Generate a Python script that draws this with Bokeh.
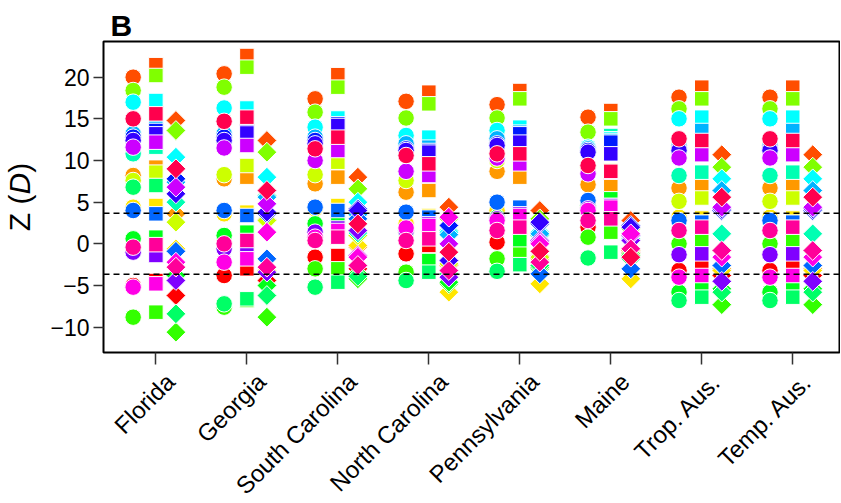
from math import pi
from bokeh.plotting import figure
from bokeh.layouts import column, row
from bokeh.models import Span, FixedTicker, ColumnDataSource, Grid
from bokeh.core.properties import value
from bokeh.embed import file_html
from bokeh.resources import INLINE

categories = ["Florida", "Georgia", "South Carolina", "North Carolina",
              "Pennsylvania", "Maine", "Trop. Aus.", "Temp. Aus."]

# rainbow(20) colours, index 0..19
palette = ["#FF0000", "#FF4D00", "#FF9900", "#FFE600", "#CCFF00", "#80FF00",
           "#33FF00", "#00FF1A", "#00FF66", "#00FFB3", "#00FFFF", "#00B3FF",
           "#0066FF", "#001AFF", "#3300FF", "#8000FF", "#CC00FF", "#FF00E6",
           "#FF0099", "#FF004D"]

# Z(D) values, one per colour index (circles / squares / diamonds)
fl_c = [-5.0, 20.0, 8.2, 4.4, 7.6, 18.4, -8.8, 0.6, 6.8, 10.8, 17.0, 13.2, 4.0, 12.8, 12.4, -1.0, 11.6, -5.2, -0.4, 15.0]
fl_s = [-4.4, 21.5, 9.2, 4.6, 8.6, 20.2, -8.2, 0.8, 7.0, 11.6, 17.2, 13.9, 3.6, 13.6, 13.2, -1.4, 12.2, -4.8, -0.1, 15.6]
fl_d = [-6.2, 14.8, 3.6, -0.6, 2.6, 13.6, -10.6, -3.8, -8.4, 5.0, 10.4, 7.4, -0.9, 7.8, 6.0, -4.4, 6.8, -2.2, -2.8, 9.0]

ga_c = [-3.8, 20.4, 7.8, 3.6, 8.3, 18.8, -7.6, 1.0, -7.2, 12.2, 16.3, 13.2, 4.0, 12.8, 12.4, -0.6, 11.5, -2.2, 0.0, 14.7]
ga_s = [-3.0, 22.6, 8.0, 3.8, 9.4, 21.2, -6.8, 1.4, -6.6, 13.0, 16.3, 15.0, 3.4, 13.5, 13.3, -0.8, 11.8, -1.8, 0.4, 15.2]
ga_d = [-4.4, 12.4, 2.9, -3.2, 2.8, 11.0, -8.8, -5.0, -6.2, 5.8, 8.0, 5.6, -1.8, 3.6, 3.8, -3.4, 4.8, 1.4, -2.8, 6.4]

sc_c = [-1.6, 17.4, 7.2, 4.2, 8.3, 15.8, -3.0, 2.4, -5.2, 12.6, 14.0, 12.8, 4.4, 12.4, 12.0, 1.4, 10.0, 0.8, 0.4, 11.4]
sc_s = [-1.4, 20.3, 8.0, 4.6, 9.8, 18.8, -3.0, 2.6, -4.6, 14.6, 15.1, 14.2, 4.0, 14.4, 14.2, 1.9, 11.2, 1.6, 0.8, 12.8]
sc_d = [-3.0, 8.0, -0.4, -0.2, 1.0, 6.6, -4.2, -3.6, -3.9, 1.3, 5.0, 3.5, 3.0, 4.2, 4.0, 1.6, -1.4, -1.6, -2.6, 2.4]

nc_c = [-1.2, 17.1, 6.2, 2.4, 7.6, 15.1, -3.4, 1.4, -4.4, 11.8, 13.0, 12.0, 3.8, 11.4, 11.2, 1.6, 8.7, 1.9, 0.4, 10.6]
nc_s = [-0.2, 18.2, 6.4, 3.4, 8.3, 16.8, -2.2, -2.0, -3.4, 12.6, 12.8, 11.6, 3.2, 11.2, 11.0, 2.4, 8.2, 2.2, 0.6, 9.6]
nc_d = [-2.5, 4.4, -2.6, -5.8, -2.4, 3.0, -4.8, -4.6, -3.6, 1.6, 1.4, 1.1, -2.0, 2.2, -2.0, -4.0, 0.0, 3.2, -3.2, -1.0]

pa_c = [0.2, 16.7, 8.7, 4.0, 10.0, 15.1, -1.8, 3.2, -3.3, 12.4, 13.6, 12.6, 5.0, 12.0, 11.8, 3.0, 10.3, 2.8, 1.6, 10.8]
pa_s = [1.2, 18.4, 8.0, 4.2, 10.0, 17.4, -0.8, 0.5, -2.5, 13.8, 14.0, 13.4, 4.4, 13.2, 12.2, 3.6, 9.6, 3.4, 2.0, 10.8]
pa_d = [-1.5, 4.0, -1.8, -4.8, -1.6, 3.0, -3.0, -2.8, -2.6, 1.0, 1.4, 1.2, -3.6, 2.4, 2.6, 0.4, 0.2, 0.0, -2.2, -0.9]

me_c = [2.0, 15.2, 7.1, 4.4, 9.2, 13.4, 0.8, 4.6, -1.7, 11.0, 11.6, 11.4, 5.2, 11.2, 11.0, 4.2, 8.4, 4.0, 2.8, 9.4]
me_s = [2.8, 16.0, 7.0, 5.0, 8.8, 15.0, 1.4, 5.4, -1.0, 13.0, 12.6, 12.4, 4.6, 12.2, 10.8, 4.6, 8.6, 4.4, 3.0, 8.7]
me_d = [-1.0, 2.8, -0.8, -4.2, -0.6, 1.8, -1.2, -1.4, -1.8, 0.6, 0.9, 1.0, -3.0, 2.2, 2.0, 0.4, 1.0, 1.2, -0.6, -1.6]

ta_c = [-3.2, 17.6, 6.7, 3.2, 5.1, 16.2, 0.0, -5.8, -6.8, 8.2, 15.0, 11.8, 2.8, 11.4, 11.2, -1.3, 10.3, -4.0, 1.6, 12.6]
ta_s = [-2.4, 18.8, 7.0, 3.1, 5.5, 17.4, 0.3, -5.0, -6.4, 8.6, 15.2, 13.6, 2.6, 12.0, 11.6, -1.2, 10.7, -3.8, 2.0, 12.4]
ta_d = [-3.8, 10.7, -3.0, -3.2, -0.8, 9.2, -7.3, -5.4, -5.8, 1.2, 7.8, 6.4, -2.6, 4.0, 4.2, -4.5, 4.4, -1.6, -0.8, 5.6]

te_c = [-3.2, 17.6, 6.7, 3.2, 5.1, 16.2, 0.0, -5.8, -6.8, 8.2, 15.0, 11.8, 2.8, 11.4, 11.2, -1.3, 10.3, -4.0, 1.6, 12.6]
te_s = [-2.4, 18.8, 7.0, 3.1, 5.5, 17.4, 0.3, -5.0, -6.4, 8.6, 15.2, 13.6, 2.6, 12.0, 11.6, -1.2, 10.7, -3.8, 2.0, 12.4]
te_d = [-3.8, 10.7, -3.0, -3.2, -0.8, 9.2, -7.3, -5.4, -5.8, 1.2, 7.8, 6.4, -2.6, 4.0, 4.2, -4.5, 4.4, -1.6, -0.8, 5.6]

circles = [fl_c, ga_c, sc_c, nc_c, pa_c, me_c, ta_c, te_c]
squares = [fl_s, ga_s, sc_s, nc_s, pa_s, me_s, ta_s, te_s]
diamonds = [fl_d, ga_d, sc_d, nc_d, pa_d, me_d, ta_d, te_d]

threshold = 3.66
y_ticks = [-10, -5, 0, 5, 10, 15, 20]

FONT = "Liberation Sans"

# ---------------- geometry (pixels) ----------------
TOTAL_W = 840
TOTAL_H = 502
LEFT_W = 44
MAIN_W = TOTAL_W - LEFT_W
FRAME_L = 59            # main figure left border
FRAME_R = 1
FRAME_T = 41
FRAME_B = 14
FRAME_H = 311
MAIN_H = FRAME_T + FRAME_H + FRAME_B
BOT_H = TOTAL_H - MAIN_H
X0, X1 = 0.424, 8.514
Y0, Y1 = -13.04, 24.28


def strip(w, h, xr, yr, top=0, bottom=0):
    f = figure(width=w, height=h, x_range=xr, y_range=yr, output_backend="svg",
               toolbar_location=None, x_axis_location=None, y_axis_location=None,
               title=None, min_border=0, min_border_left=0, min_border_right=0,
               min_border_top=top, min_border_bottom=bottom)
    f.outline_line_color = None
    for g in f.select(type=Grid):
        g.visible = False
    return f


def build(groups, offset):
    xs, ys, cs = [], [], []
    for i, vals in enumerate(groups):
        for k, v in enumerate(vals):
            xs.append(i + 1 + offset)
            ys.append(v)
            cs.append(palette[k])
    return ColumnDataSource(dict(x=xs, y=ys, c=cs))


# ---------------- main plot ----------------
p = figure(width=MAIN_W, height=MAIN_H, output_backend="svg", toolbar_location=None,
           x_range=(X0, X1), y_range=(Y0, Y1), title="B",
           min_border_left=FRAME_L, min_border_right=FRAME_R,
           min_border_top=FRAME_T, min_border_bottom=FRAME_B)
p.title.text_font = FONT
p.title.text_font_size = "30px"
p.title.text_font_style = "bold"
p.title.text_color = "black"
p.title.align = "left"
p.title.offset = 7
p.title.standoff = 0
p.xgrid.visible = False
p.ygrid.visible = False
p.outline_line_color = "black"
p.outline_line_width = 2

p.add_layout(Span(location=threshold, dimension="width", line_color="black",
                  line_dash="6 4", line_width=1.5))
p.add_layout(Span(location=-threshold, dimension="width", line_color="black",
                  line_dash="6 4", line_width=1.5))

p.scatter("x", "y", source=build(circles, -0.25), marker="circle", size=16.5,
          fill_color="c", line_color="white", line_width=1)
p.scatter("x", "y", source=build(squares, 0.0), marker="square", size=14.5,
          fill_color="c", line_color="white", line_width=1)
p.scatter("x", "y", source=build(diamonds, 0.22), marker="square", size=14,
          angle=pi / 4, fill_color="c", line_color="white", line_width=1)

p.yaxis.ticker = FixedTicker(ticks=y_ticks)
p.yaxis.major_label_overrides = {t: str(t).replace("-", "\u2212") for t in y_ticks}
p.yaxis.major_label_text_font = FONT
p.yaxis.major_label_text_font_size = "23px"
p.yaxis.major_label_text_color = "black"
p.yaxis.major_tick_out = 10
p.yaxis.major_tick_in = 0
p.yaxis.major_tick_line_width = 1.5
p.yaxis.major_tick_line_color = "#333333"
p.yaxis.minor_tick_line_color = None
p.yaxis.axis_line_color = None
p.yaxis.major_label_standoff = 4

p.xaxis.ticker = FixedTicker(ticks=list(range(1, 9)))
p.xaxis.major_label_overrides = {i + 1: "" for i in range(8)}
p.xaxis.major_label_text_font_size = "0px"
p.xaxis.major_label_standoff = 0
p.xaxis.major_tick_out = 12
p.xaxis.major_tick_in = 0
p.xaxis.major_tick_line_width = 1.5
p.xaxis.major_tick_line_color = "#333333"
p.xaxis.minor_tick_line_color = None
p.xaxis.axis_line_color = None

# ---------------- left strip: y axis title "Z (D)" ----------------
# same vertical frame as the main plot, so it shares the y data units
left = strip(LEFT_W, MAIN_H, (0, LEFT_W), (Y0, Y1), top=FRAME_T, bottom=FRAME_B)
fs = 30
ppy = FRAME_H / (Y1 - Y0)
em = {"Z (": 0.611 + 0.278 + 0.333, "D": 0.722, ")": 0.333}
total = sum(em.values()) * fs / ppy
start = (Y0 + Y1) / 2 - total / 2
for txt, style in [("Z (", "normal"), ("D", "italic"), (")", "normal")]:
    left.text(x=[19], y=[start], text=[txt], angle=pi / 2, text_align="left",
              text_baseline="middle", text_font=value(FONT),
              text_font_size=value(f"{fs}px"), text_font_style=style,
              text_color="black")
    start += em[txt] * fs / ppy

# ---------------- bottom strip: category labels (full width) ----------------
ppu = (MAIN_W - FRAME_L - FRAME_R) / (X1 - X0)
bx0 = X0 - (LEFT_W + FRAME_L) / ppu
bx1 = X0 + (TOTAL_W - LEFT_W - FRAME_L) / ppu
bottom = strip(TOTAL_W, BOT_H, (bx0, bx1), (0, BOT_H))
lab = ColumnDataSource(dict(x=[i + 1 + 14.5 / ppu for i in range(len(categories))],
                            y=[BOT_H - 11] * len(categories), t=categories))
bottom.text(x="x", y="y", text="t", source=lab, angle=pi / 4, text_align="right",
            text_baseline="middle", text_font=value(FONT),
            text_font_size=value("24px"), text_color="black")

layout = column(row(left, p, spacing=0), bottom, spacing=0)

open("out.html", "w").write(file_html(layout, INLINE))
